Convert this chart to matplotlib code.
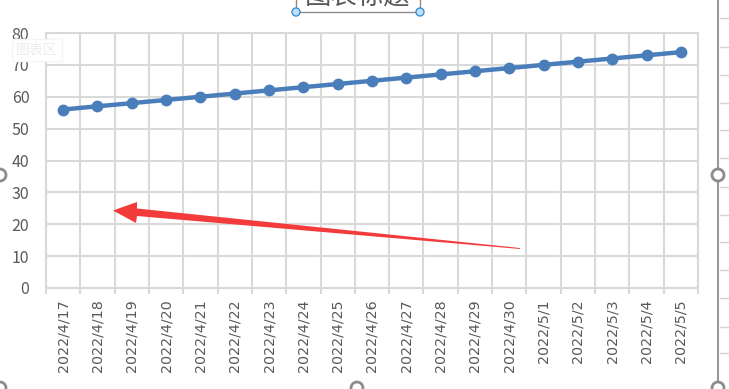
import matplotlib
matplotlib.use("Agg")
import matplotlib.pyplot as plt
import numpy as np
from matplotlib.patches import Polygon, Rectangle, Ellipse
from matplotlib.lines import Line2D

plt.rcParams['font.family'] = ['Noto Sans CJK SC', 'DejaVu Sans']

# data
dates = ['2022/4/17', '2022/4/18', '2022/4/19', '2022/4/20', '2022/4/21', '2022/4/22',
         '2022/4/23', '2022/4/24', '2022/4/25', '2022/4/26', '2022/4/27', '2022/4/28',
         '2022/4/29', '2022/4/30', '2022/5/1', '2022/5/2', '2022/5/3', '2022/5/4', '2022/5/5']
values = [56, 57, 58, 59, 60, 61, 62, 63, 64, 65, 66, 67, 68, 69, 70, 71, 72, 73, 74]
y_ticks = [0, 10, 20, 30, 40, 50, 60, 70, 80]

W, H = 729, 389
grid_c = '#D9D9D9'
text_c = '#595959'
line_c = '#4A7EBB'

fig = plt.figure(figsize=(W / 100, H / 100), dpi=100)
ax = fig.add_axes([46 / W, (H - 288) / H, (698 - 46) / W, (288 - 33) / H])

x = np.arange(len(dates))
ax.plot(x, values, color=line_c, lw=3.2, marker='o', ms=7.5, zorder=3, clip_on=False)

ax.set_xlim(-0.5, len(dates) - 0.5)
ax.set_ylim(0, 80)
ax.set_yticks(y_ticks)
ax.set_xticks(x)
ax.set_xticklabels(dates, rotation=90, fontsize=10.3, color=text_c, family='DejaVu Sans')
ax.set_xticks(np.arange(-0.5, len(dates), 1), minor=True)
ax.tick_params(axis='x', which='major', length=0, pad=8)
ax.tick_params(axis='x', which='minor', length=4, color=grid_c, width=1.5)
ax.tick_params(axis='y', length=0, pad=12, labelsize=11.5, labelcolor=text_c)
ax.grid(axis='y', color=grid_c, lw=1.5)
ax.grid(axis='x', which='minor', color=grid_c, lw=1.5)
for s in ax.spines.values():
    s.set_color(grid_c)
    s.set_linewidth(1.5)
ax.set_axisbelow(True)

# red arrow
px = lambda a, b: (a / W, (H - b) / H)
arrow = [px(113, 210.5), px(137, 202), px(137, 208.5), px(520, 248), px(520, 249),
         px(137, 216), px(136, 223)]
fig.patches.append(Polygon(arrow, closed=True, transform=fig.transFigure,
                           facecolor='#F43B3B', edgecolor='none', zorder=5))


def handle(cx, cy, r, fc, ec, lw):
    fig.patches.append(Ellipse(px(cx, cy), 2 * r / W, 2 * r / H, transform=fig.transFigure,
                               facecolor=fc, edgecolor=ec, lw=lw, zorder=6))


# title box (cut off at top)
fig.text(358 / W, (H + 4) / H, '图表标题', ha='center', va='center', fontsize=19, color=text_c)
fig.patches.append(Rectangle(px(296, 12), 124 / W, 30 / H, transform=fig.transFigure,
                             fill=False, edgecolor='#8C8C8C', lw=1))
for hx in (296, 420):
    handle(hx, 12, 4, '#BFE0F7', '#3A8FD6', 1)

# faint chart-area tooltip
fig.text(37 / W, (H - 50) / H, '图表区', ha='center', va='center', fontsize=10,
         color='#EDEDED',
         bbox=dict(boxstyle='square,pad=0.3', facecolor='white', edgecolor='#F5F5F5'))

# chart area border and handles
fig.lines.append(Line2D([718 / W, 718 / W], [0, 1], transform=fig.transFigure,
                        color='#9A9A9A', lw=1.5))
for cy in [18, 47, 75, 103, 130, 158, 187, 215, 242, 270, 298, 327, 353]:
    fig.lines.append(Line2D([720 / W, 1], [(H - cy) / H] * 2, transform=fig.transFigure,
                            color='#D4D4D4', lw=1))
for hx, hy in [(0, 175), (718, 175), (0, 388), (357, 388), (718, 388)]:
    handle(hx, hy, 6, 'white', '#8C8C8C', 2)

fig.savefig('out.png', dpi=100)
